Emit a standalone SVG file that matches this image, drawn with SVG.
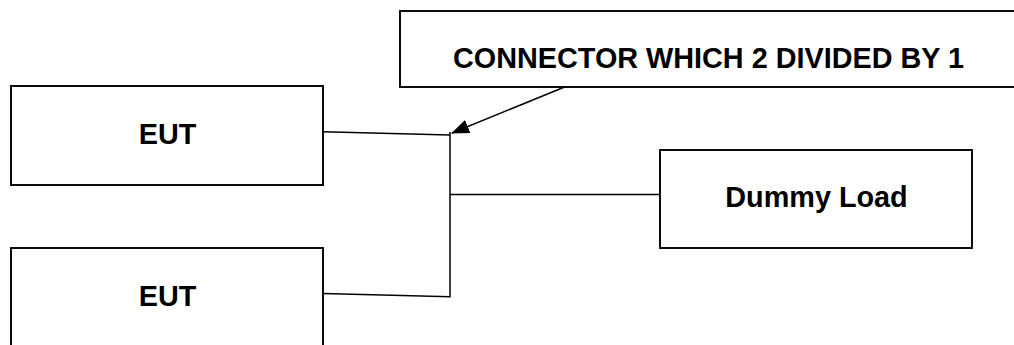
<svg xmlns="http://www.w3.org/2000/svg" width="1014" height="345" viewBox="0 0 1014 345">
<style>
.box{fill:#fff;stroke:#000;stroke-width:1.9}
.lbl{font-family:"Liberation Sans",Arial,sans-serif;font-weight:bold;font-size:28.8px;fill:#000;text-anchor:middle}
.wire{fill:none;stroke:#000;stroke-width:1.5}
</style>
<defs>
<marker id="arrow" markerWidth="18" markerHeight="14" refX="17" refY="7" orient="auto" markerUnits="userSpaceOnUse">
<path d="M0,0 L18,7 L0,14 z" fill="#000"/>
</marker>
</defs>
<rect width="1014" height="345" fill="#fff"/>
<g id="connectors">
<polyline class="wire" points="323,131.7 450,135"/>
<polyline class="wire" points="323,293.5 450,296.7 450,132"/>
<line class="wire" x1="450" y1="194.5" x2="660" y2="194.5"/>
<line class="wire" x1="567" y1="86" x2="452" y2="133" marker-end="url(#arrow)"/>
</g>
<g id="connector-label">
<rect class="box" x="400" y="11" width="630" height="76"/>
<text class="lbl" x="708.5" y="67.5">CONNECTOR WHICH 2 DIVIDED BY 1</text>
</g>
<g id="eut1">
<rect class="box" x="11" y="86" width="312" height="99"/>
<text class="lbl" x="167.5" y="144">EUT</text>
</g>
<g id="eut2">
<rect class="box" x="11" y="248" width="312" height="120"/>
<text class="lbl" x="167.5" y="306">EUT</text>
</g>
<g id="dummy-load">
<rect class="box" x="660" y="150" width="312" height="98"/>
<text class="lbl" x="816.5" y="207">Dummy Load</text>
</g>
</svg>
